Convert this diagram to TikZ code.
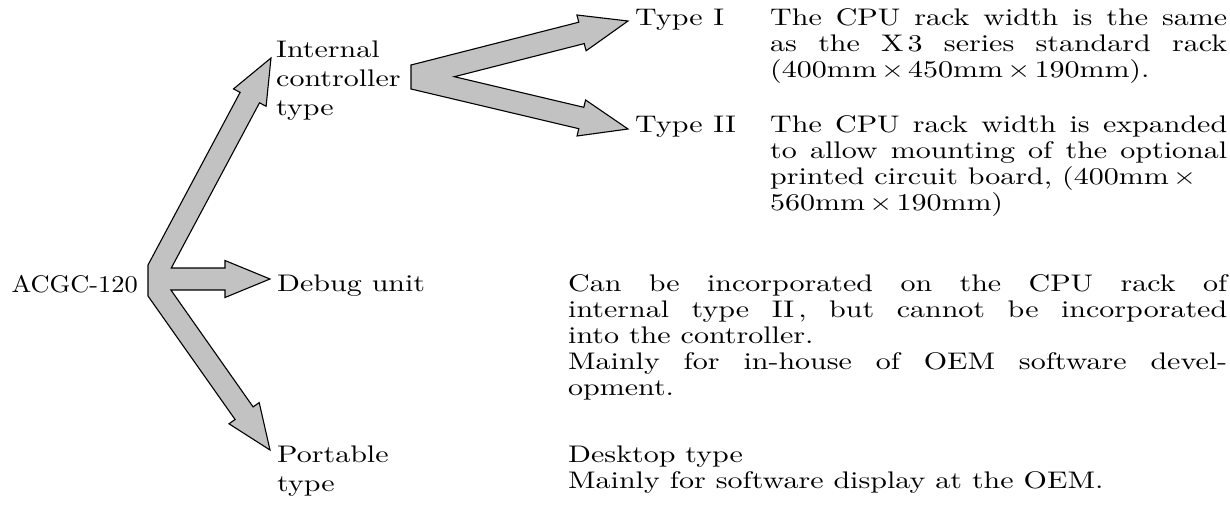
\documentclass[tikz,border=0pt]{standalone}
\usepackage{fontspec}
\newfontfamily\lbl{lmroman10-regular.otf}[FakeStretch=1.25]
\newfontfamily\lblnarrow{lmroman10-regular.otf}[FakeStretch=1.1]
\tolerance=10000 \hbadness=10000
\hyphenpenalty=10000 \exhyphenpenalty=10000

\begin{document}
\begin{tikzpicture}
    [ x=1pt, y=-1pt
    , every node/.style={font=\lbl\fontsize{24}{29}\selectfont, inner sep=0pt, anchor=base west, align=left}
    , block/.style={draw, fill=black!24, line width=1.1pt, line join=miter}
    , para/.style={font=\lbl\fontsize{24}{26}\selectfont, align=justify}
    ]

    \useasboundingbox (0,0) rectangle (1230,506);

    % arrow tips
    \coordinate (tipInt)  at (271,58);
    \coordinate (tipDbg)  at (270,279);
    \coordinate (tipPort) at (270,450);
    \coordinate (tipI)    at (628,21);
    \coordinate (tipII)   at (628,129);

    % left fork
    \draw [block] (148,265) -- (240.1,92.4) -- (233.5,88.9) -- (tipInt) -- (266.1,106.3) -- (259.5,102.8)
        -- (171.3,268) -- (225,268) -- (225,260.5) -- (tipDbg) -- (225,297.5) -- (225,290)
        -- (170.9,290) -- (253.1,406.9) -- (259.2,402.6) -- (tipPort) -- (229.0,423.8) -- (235.1,419.5)
        -- (148,296) -- cycle;

    % right fork
    \draw [block] (411,65) -- (578.8,22.2) -- (576.9,15) -- (tipI) -- (586.1,50.8) -- (584.2,43.6)
        -- (454.4,76.7) -- (583.8,107.3) -- (585.6,100) -- (tipII) -- (577,136) -- (578.8,128.7)
        -- (411,89) -- cycle;

    % labels (base of a multi-line label is its last line)
    \node (acgc) [font=\lblnarrow\fontsize{24}{29}\selectfont, anchor=base east] at (138,292) {ACGC-120};
    \node (internal) at (276,115) {Internal\\controller\\type};
    \node (debug)    at (277,291) {Debug unit};
    \node (portable) at (277,491) {Portable\\type};
    \node (typeI)    at (635,25)  {Type\hspace{.45em}I};
    \node (typeII)   at (635,132) {Type\hspace{.45em}II};

    \node (typeItxt) [para, text width=457pt] at (770,25)
        {The CPU rack width is the same\linebreak
         as the X\,3 series standard rack\linebreak
         (400mm\,×\,450mm\,×\,190mm).};
    \node (typeIItxt) [para, text width=457pt] at (770,132)
        {The CPU rack width is expanded\linebreak
         to allow mounting of the optional\linebreak
         printed circuit board, (400mm\,×\\
         560mm\,×\,190mm)};
    \node (debugtxt) [para, text width=659pt] at (568,291)
        {Can be incorporated on the CPU rack of\linebreak
         internal type II\,, but cannot be incorporated\linebreak
         into the controller.\\
         Mainly for in-house of OEM software devel-\linebreak
         opment.};
    \node (desktoptxt) [para, text width=659pt] at (568,462)
        {Desktop type\\
         Mainly for software display at the OEM.};

  \end{tikzpicture}
\end{document}
